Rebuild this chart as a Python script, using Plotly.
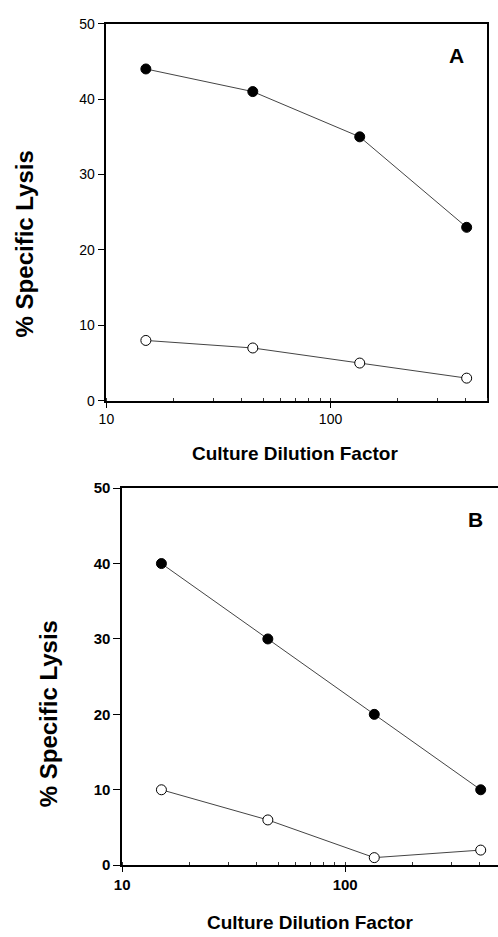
import plotly.graph_objects as go

# Data
dilution = [15, 45, 135, 405]
a_filled = [44, 41, 35, 23]
a_open = [8, 7, 5, 3]
b_filled = [40, 30, 20, 10]
b_open = [10, 6, 1, 2]
y_ticks = [0, 10, 20, 30, 40, 50]

W, H = 498, 937
FONT = "Liberation Sans, Arial, sans-serif"

def px_x(x):
    return x / W

def px_y(y):
    return 1 - y / H

fig = go.Figure()

line_col = "#444"

def add_series(xs, ys, filled, xa, ya):
    fig.add_trace(go.Scatter(
        x=xs, y=ys, mode="lines+markers", xaxis=xa, yaxis=ya,
        line=dict(color=line_col, width=1),
        marker=dict(size=10, color="black" if filled else "white",
                    line=dict(color="black", width=1)),
        showlegend=False, cliponaxis=False))

add_series(dilution, a_filled, True, "x", "y")
add_series(dilution, a_open, False, "x", "y")
add_series(dilution, b_filled, True, "x2", "y2")
add_series(dilution, b_open, False, "x2", "y2")

common_x = dict(type="log", showgrid=False, zeroline=False, showline=True,
                linecolor="black", linewidth=1.5, ticks="outside", ticklen=5,
                tickcolor="black", dtick=1,
                minor=dict(ticks="inside", ticklen=3, tickcolor="#333", dtick="D1", showgrid=False))
common_y = dict(range=[0, 50], tickvals=y_ticks, showgrid=False, zeroline=False,
                showline=True, linecolor="black", linewidth=1.5, ticks="outside",
                ticklen=7, tickcolor="black")

fig.update_layout(
    width=W, height=H, margin=dict(l=0, r=0, t=0, b=0),
    paper_bgcolor="white", plot_bgcolor="white",
    xaxis=dict(**common_x, domain=[px_x(100), px_x(487)], range=[1, 2.699],
               anchor="y", mirror=True,
               tickfont=dict(family=FONT, size=14, color="black")),
    yaxis=dict(**common_y, domain=[px_y(399), px_y(15)], anchor="x", mirror=True,
               tickfont=dict(family=FONT, size=14, color="black")),
    xaxis2=dict(**common_x, domain=[px_x(116), 1.0], range=[1, 2.685],
                anchor="y2", mirror=True,
                tickfont=dict(family=FONT, size=15, color="black", weight="bold")),
    yaxis2=dict(**common_y, domain=[px_y(872), px_y(488)], anchor="x2",
                tickfont=dict(family=FONT, size=15, color="black", weight="bold")),
)

ann = []
def text(x, y, s, size, angle=0):
    ann.append(dict(x=px_x(x), y=px_y(y), xref="paper", yref="paper", text=s,
                    showarrow=False, textangle=angle, xanchor="center", yanchor="middle",
                    font=dict(family=FONT, size=size, color="black", weight="bold")))

text(292, 453, "Culture Dilution Factor", 19)
text(17, 239, "% Specific Lysis", 24, -90)
text(456, 47, "A", 21)
text(307, 930, "Culture Dilution Factor", 19)
text(42, 718, "% Specific Lysis", 24, -90)
text(475, 520, "B", 21)
fig.update_layout(annotations=ann)

fig.write_html("out.html")
